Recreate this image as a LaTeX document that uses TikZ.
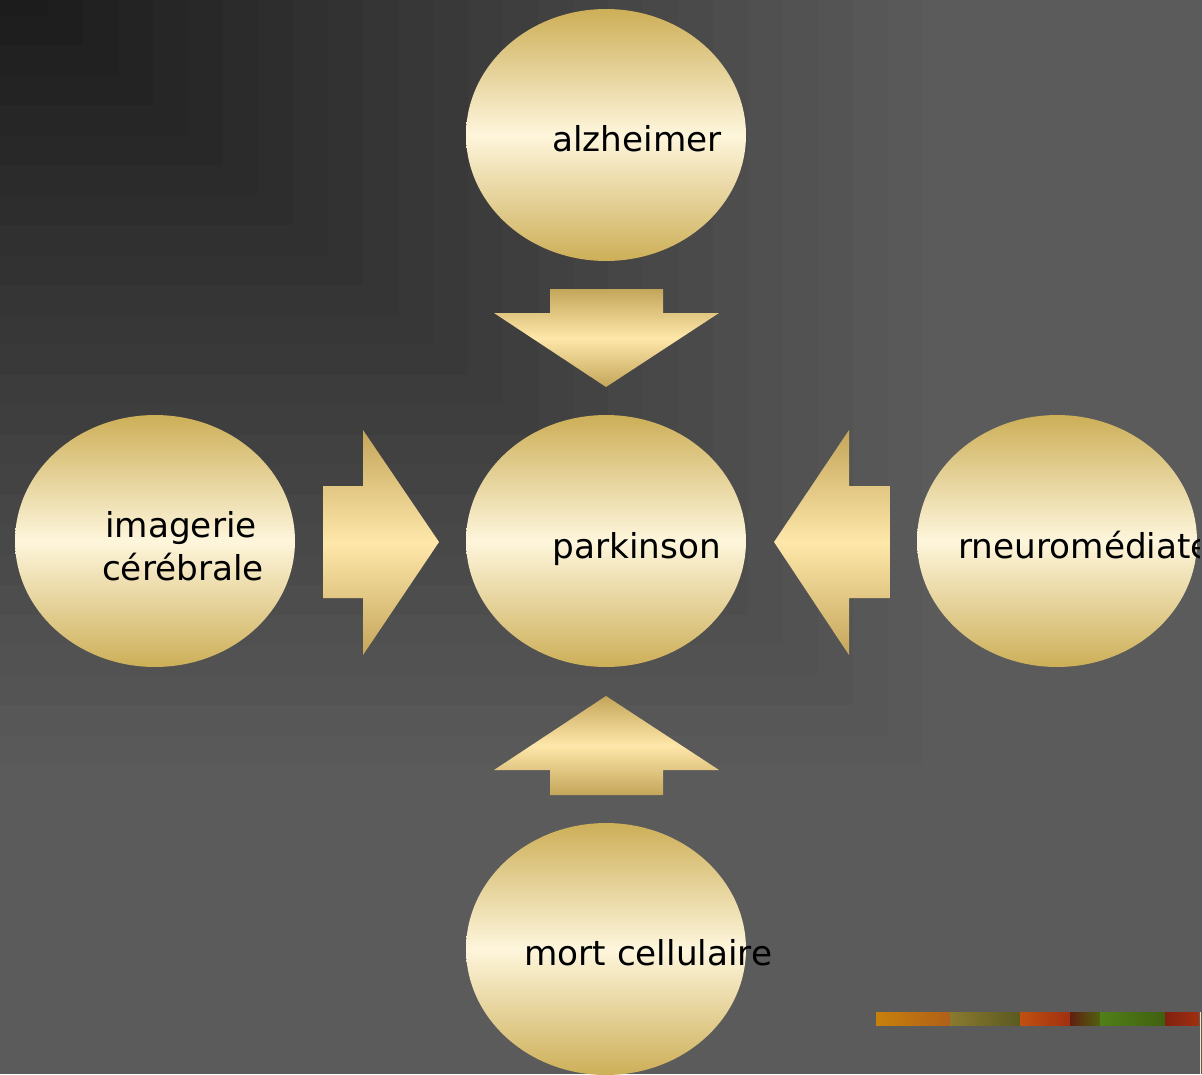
\documentclass[tikz,border=0pt]{standalone}
\usepackage{fontspec}
\setmainfont{DejaVu Sans}
\usetikzlibrary{shapes.geometric}
\definecolor{goldedge}{RGB}{205,175,88}
\definecolor{goldmid}{RGB}{254,246,220}
\definecolor{arredge}{RGB}{196,166,90}
\definecolor{arrmid}{RGB}{254,231,170}
\definecolor{bgbase}{RGB}{91,91,91}
\definecolor{stripline}{RGB}{240,230,192}
\tikzset{
  bubble/.style={ellipse, minimum width=5.6cm, minimum height=5.04cm, inner sep=0pt,
    top color=goldedge, bottom color=goldedge, middle color=goldmid},
  blockarrow/.style={top color=arredge, bottom color=arredge, middle color=arrmid},
  lbl/.style={font=\fontsize{19.5}{23}\selectfont, text=black, inner sep=0pt, anchor=base west},
  seg/.style={draw=none},
}
\begin{document}
\begin{tikzpicture}[x=0.02cm,y=-0.02cm]
\useasboundingbox (0,0) rectangle (1202,1074);
\fill[bgbase] (0,0) rectangle (1202,1074);
\foreach \i in {27,26,...,1}{
  \pgfmathsetmacro{\g}{min(91,28+2.45*(\i-1))/255}
  \definecolor{bgstep}{gray}{\g}
  \fill[bgstep] (0,0) rectangle ({13+35*\i},{-15+30*\i});
}
% bubbles
\node[bubble] (alz) at (606,135) {};
\node[bubble] (park) at (606,541) {};
\node[bubble] (img) at (155,541) {};
\node[bubble] (neuro) at (1057,541) {};
\node[bubble] (mort) at (606,949) {};
% block arrows
\path[blockarrow] (550,289) -- (663,289) -- (663,313) -- (719,313) -- (606,387) -- (494,313) -- (550,313) -- cycle;
\path[blockarrow] (550,795) -- (663,795) -- (663,770) -- (719,770) -- (606,696) -- (494,770) -- (550,770) -- cycle;
\path[blockarrow] (323,486) -- (363,486) -- (363,430) -- (439,542) -- (363,655) -- (363,598) -- (323,598) -- cycle;
\path[blockarrow] (890,486) -- (849,486) -- (849,430) -- (774,542) -- (849,655) -- (849,598) -- (890,598) -- cycle;
% labels
\node[lbl] (talz) at (552,152) {alzheimer};
\node[lbl] (tpark) at (552,558) {parkinson};
\node[lbl, anchor=base] (timg1) at (181,537) {imagerie};
\node[lbl, anchor=base] (timg2) at (183,580) {cérébrale};
\node[lbl] (tmort) at (524,965) {mort cellulaire};
\begin{scope}
  \clip (900,400) rectangle (1199,700);
  \node[lbl] (tneuro) at (958,558) {rneuromédiateur};
\end{scope}
% decorative strip
\shade[seg, left color={rgb,255:red,200;green,128;blue,12}, right color={rgb,255:red,176;green,96;blue,24}] (876,1012) rectangle (950,1025);
\shade[seg, left color={rgb,255:red,138;green,122;blue,48}, right color={rgb,255:red,90;green,90;blue,32}] (950,1012) rectangle (1020,1025);
\shade[seg, left color={rgb,255:red,192;green,80;blue,16}, right color={rgb,255:red,160;green,48;blue,16}] (1020,1012) rectangle (1070,1025);
\shade[seg, left color={rgb,255:red,96;green,32;blue,16}, right color={rgb,255:red,80;green,96;blue,16}] (1070,1012) rectangle (1100,1025);
\shade[seg, left color={rgb,255:red,80;green,128;blue,24}, right color={rgb,255:red,64;green,96;blue,16}] (1100,1012) rectangle (1165,1025);
\shade[seg, left color={rgb,255:red,128;green,32;blue,16}, right color={rgb,255:red,160;green,48;blue,16}] (1165,1012) rectangle (1199,1025);
\draw[stripline, line width=0.02cm] (1200,1012) -- (1200,1074);
\end{tikzpicture}
\end{document}
